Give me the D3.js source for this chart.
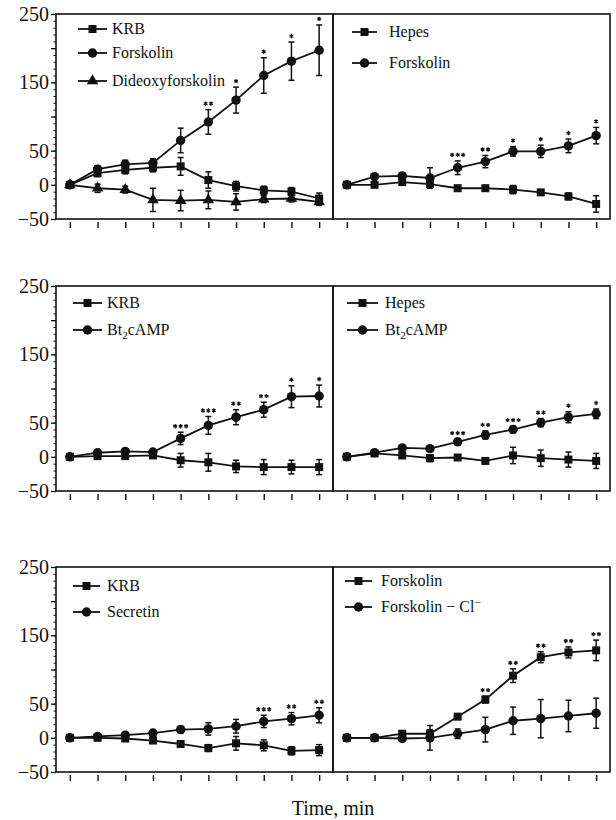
<!DOCTYPE html>
<html>
<head>
<meta charset="utf-8">
<script src="https://cdn.jsdelivr.net/npm/d3@7"></script>
<style>
  body { margin: 0; background: #fff; }
  text { font-family: "Liberation Serif", "Times New Roman", serif; fill: #111; }
</style>
</head>
<body>
<div id="chart"></div>
<script>
// ---------- datos ----------
const samples = [1, 2, 3, 4, 5, 6, 7, 8, 9, 10];
const yLabels = [250, 150, 50, 0, -50];

// panel A: KRB / Forskolin / Dideoxyforskolin
const aKrb = [0, 17, 22, 25, 27, 7, -2, -8, -10, -20];
const aKrbErr = [0, 5, 6, 6, 13, 12, 7, 6, 6, 8];
const aFsk = [0, 23, 30, 32, 65, 92, 124, 160, 181, 197];
const aFskErr = [0, 5, 6, 6, 18, 18, 19, 26, 28, 37];
const aDdf = [0, -5, -7, -22, -23, -22, -25, -21, -20, -25];
const aDdfErr = [0, 6, 5, 17, 15, 13, 12, 5, 5, 5];
const aStars = [0, 0, 0, 0, 0, 2, 1, 1, 1, 1];

// panel B: Hepes / Forskolin
const bHep = [0, 0, 4, 1, -5, -5, -7, -11, -17, -28];
const bHepErr = [0, 3, 3, 4, 4, 4, 6, 3, 5, 12];
const bFsk = [0, 12, 13, 10, 25, 34, 49, 49, 57, 72];
const bFskErr = [0, 3, 4, 15, 10, 9, 7, 9, 10, 12];
const bStars = [0, 0, 0, 0, 3, 2, 1, 1, 1, 1];

// panel C: KRB / Bt2cAMP
const cKrb = [0, 1, 1, 2, -5, -8, -14, -15, -15, -15];
const cKrbErr = [0, 3, 3, 4, 10, 13, 9, 11, 10, 11];
const cBt = [0, 6, 8, 7, 27, 46, 58, 69, 88, 89];
const cBtErr = [0, 3, 3, 3, 9, 13, 11, 11, 16, 16];
const cStars = [0, 0, 0, 0, 3, 3, 2, 2, 1, 1];

// panel D: Hepes / Bt2cAMP
const dHep = [0, 5, 2, -2, -1, -6, 2, -2, -4, -6];
const dHepErr = [0, 3, 3, 5, 4, 4, 12, 12, 11, 11];
const dBt = [0, 6, 13, 12, 22, 32, 40, 50, 58, 63];
const dBtErr = [0, 3, 3, 3, 4, 6, 5, 6, 8, 7];
const dStars = [0, 0, 0, 0, 3, 2, 3, 2, 1, 1];

// panel E: KRB / Secretin
const eKrb = [0, 0, -1, -4, -9, -15, -8, -11, -19, -18];
const eKrbErr = [0, 3, 3, 3, 4, 5, 10, 8, 6, 8];
const eSec = [0, 2, 4, 7, 12, 13, 17, 24, 28, 33];
const eSecErr = [0, 3, 3, 4, 5, 9, 10, 9, 9, 11];
const eStars = [0, 0, 0, 0, 0, 0, 0, 3, 2, 2];

// panel F: Forskolin / Forskolin - Cl-
const fFsk = [0, 0, 6, 6, 31, 56, 91, 118, 125, 128];
const fFskErr = [0, 3, 4, 6, 4, 5, 10, 8, 8, 15];
const fCl = [0, 0, -1, 0, 6, 12, 25, 28, 32, 36];
const fClErr = [0, 3, 3, 18, 7, 18, 20, 28, 23, 22];
const fStars = [0, 0, 0, 0, 0, 2, 2, 2, 2, 2];

// ---------- layout ----------
const W = 616, H = 820;
const boxW = 277, boxH = 205;

const panels = [
  { x: 56, y: 14, axis: true, stars: aStars,
    series: [
      { name: "KRB", shape: "square", v: aKrb, e: aKrbErr },
      { name: "Forskolin", shape: "circle", v: aFsk, e: aFskErr },
      { name: "Dideoxyforskolin", shape: "triangle", v: aDdf, e: aDdfErr }
    ],
    leg: { x1: 22, x2: 51, tx: 56, rows: [15, 39, 67], fs: 16 } },
  { x: 333, y: 14, axis: false, stars: bStars,
    series: [
      { name: "Hepes", shape: "square", v: bHep, e: bHepErr },
      { name: "Forskolin", shape: "circle", v: bFsk, e: bFskErr }
    ],
    leg: { x1: 19, x2: 44, tx: 56, rows: [18, 49], fs: 16 } },
  { x: 56, y: 286, axis: true, stars: cStars,
    series: [
      { name: "KRB", shape: "square", v: cKrb, e: cKrbErr },
      { name: "Bt|2|cAMP", shape: "circle", v: cBt, e: cBtErr }
    ],
    leg: { x1: 17, x2: 46, tx: 51, rows: [17, 44], fs: 16 } },
  { x: 333, y: 286, axis: false, stars: dStars,
    series: [
      { name: "Hepes", shape: "square", v: dHep, e: dHepErr },
      { name: "Bt|2|cAMP", shape: "circle", v: dBt, e: dBtErr }
    ],
    leg: { x1: 14, x2: 45, tx: 52, rows: [17, 44], fs: 16 } },
  { x: 56, y: 567, axis: true, stars: eStars,
    series: [
      { name: "KRB", shape: "square", v: eKrb, e: eKrbErr },
      { name: "Secretin", shape: "circle", v: eSec, e: eSecErr }
    ],
    leg: { x1: 17, x2: 44, tx: 51, rows: [19, 45], fs: 16 } },
  { x: 333, y: 567, axis: false, stars: fStars,
    series: [
      { name: "Forskolin", shape: "square", v: fFsk, e: fFskErr },
      { name: "Forskolin  −  Cl^", shape: "circle", v: fCl, e: fClErr }
    ],
    leg: { x1: 12, x2: 39, tx: 48, rows: [14, 40], fs: 16 } }
];

const svg = d3.select("#chart").append("svg")
  .attr("width", W).attr("height", H);

const symType = { square: d3.symbolSquare, circle: d3.symbolCircle, triangle: d3.symbolTriangle };
const symSize = { square: 64, circle: 70, triangle: 58 };
const starPath = d3.symbol().type(d3.symbolAsterisk).size(13)();

function legendText(t, name) {
  // "Bt|2|cAMP" -> subindice, "Cl^" -> superindice menos
  if (name.includes("|")) {
    const p = name.split("|");
    t.append("tspan").text(p[0]);
    t.append("tspan").attr("dy", 4).attr("font-size", "0.7em").text(p[1]);
    t.append("tspan").attr("dy", -4).text(p[2]);
  } else if (name.endsWith("^")) {
    t.append("tspan").text(name.slice(0, -1));
    t.append("tspan").attr("dy", -6).attr("font-size", "0.75em").text("−");
  } else {
    t.text(name);
  }
}

panels.forEach((p) => {
  const g = svg.append("g").attr("transform", `translate(${p.x},${p.y})`);

  const x = d3.scaleLinear().domain([0.5, 10.5]).range([0, boxW]);
  const y = d3.scaleLinear().domain([-50, 250]).range([boxH, 0]);

  // caja
  g.append("rect")
    .attr("width", boxW).attr("height", boxH)
    .attr("fill", "none").attr("stroke", "#111").attr("stroke-width", 1.6);

  // ticks x (debajo de la caja, sin etiquetas)
  g.append("g")
    .attr("transform", `translate(0,${boxH + 3})`)
    .call(d3.axisBottom(x).tickValues(samples).tickSize(6).tickFormat(""))
    .call((a) => a.select(".domain").remove())
    .call((a) => a.selectAll("line").attr("stroke", "#111").attr("stroke-width", 1.4));

  if (p.axis) {
    g.append("g")
      .call(d3.axisLeft(y).tickValues(d3.range(-50, 251, 10)).tickSize(2.5).tickFormat(""))
      .call((a) => a.select(".domain").remove())
      .call((a) => a.selectAll("line").attr("stroke", "#111").attr("stroke-width", 1));
    g.append("g")
      .call(d3.axisLeft(y).tickValues(d3.range(-50, 251, 50)).tickSize(5).tickFormat(""))
      .call((a) => a.select(".domain").remove())
      .call((a) => a.selectAll("line").attr("stroke", "#111").attr("stroke-width", 1.3));
    g.selectAll(".ylab").data(yLabels).enter().append("text")
      .attr("class", "ylab")
      .attr("x", -7).attr("y", (d) => y(d) + 7)
      .attr("text-anchor", "end")
      .attr("font-size", 20)
      .text((d) => (d < 0 ? "−" + Math.abs(d) : d));
  }

  // series
  p.series.forEach((s) => {
    const pts = samples.map((t, i) => ({ t, v: s.v[i], e: s.e[i] }));
    const line = d3.line().x((d) => x(d.t)).y((d) => y(d.v));
    g.append("path").datum(pts)
      .attr("d", line).attr("fill", "none")
      .attr("stroke", "#111").attr("stroke-width", 1.8);

    const eb = g.append("g").attr("stroke", "#111").attr("stroke-width", 1.5);
    pts.filter((d) => d.e > 0).forEach((d) => {
      eb.append("line").attr("x1", x(d.t)).attr("x2", x(d.t))
        .attr("y1", y(d.v - d.e)).attr("y2", y(d.v + d.e));
      [d.v - d.e, d.v + d.e].forEach((c) => {
        eb.append("line").attr("x1", x(d.t) - 3).attr("x2", x(d.t) + 3)
          .attr("y1", y(c)).attr("y2", y(c));
      });
    });

    g.selectAll(null).data(pts).enter().append("path")
      .attr("transform", (d) => `translate(${x(d.t)},${y(d.v)})`)
      .attr("d", d3.symbol().type(symType[s.shape]).size(symSize[s.shape]))
      .attr("fill", "#111");
  });

  // asteriscos sobre la serie mas alta
  const sg = g.append("g").attr("stroke", "#111").attr("stroke-width", 1.2).attr("fill", "none");
  samples.forEach((t, i) => {
    const n = p.stars[i];
    if (!n) return;
    const top = d3.max(p.series, (s) => s.v[i] + s.e[i]);
    for (let k = 0; k < n; k++) {
      const cx = x(t) + (k - (n - 1) / 2) * 5.5;
      sg.append("path")
        .attr("transform", `translate(${cx},${y(top) - 6})`)
        .attr("d", starPath);
    }
  });

  // leyenda
  const lg = g.append("g");
  p.series.forEach((s, i) => {
    const ry = p.leg.rows[i];
    lg.append("line").attr("x1", p.leg.x1).attr("x2", p.leg.x2)
      .attr("y1", ry).attr("y2", ry)
      .attr("stroke", "#111").attr("stroke-width", 1.8);
    lg.append("path")
      .attr("transform", `translate(${(p.leg.x1 + p.leg.x2) / 2},${ry})`)
      .attr("d", d3.symbol().type(symType[s.shape]).size(symSize[s.shape]))
      .attr("fill", "#111");
    const t = lg.append("text")
      .attr("x", p.leg.tx).attr("y", ry + 5)
      .attr("font-size", p.leg.fs);
    legendText(t, s.name);
  });
});

svg.append("text")
  .attr("x", 333).attr("y", 815)
  .attr("text-anchor", "middle")
  .attr("font-size", 20)
  .text("Time, min");
</script>
</body>
</html>
